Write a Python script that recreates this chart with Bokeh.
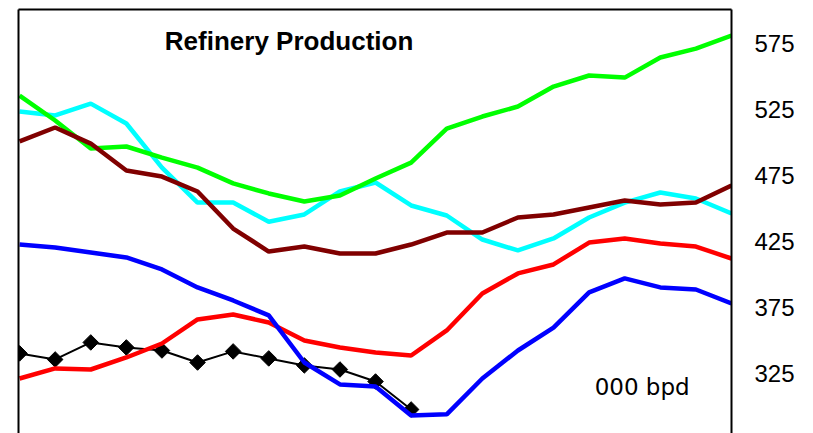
import numpy as np
from bokeh.plotting import figure
from bokeh.models import Range1d, LinearAxis, FixedTicker, Label
from bokeh.embed import file_html
from bokeh.resources import INLINE

# period index (21 periods)
periods = list(range(21))

green = [535.6, 516.7, 495.5, 497.0, 488.6, 481.0, 469.0, 461.4, 455.3, 459.8, 472.7,
         484.8, 510.6, 519.7, 527.3, 542.4, 550.8, 549.2, 564.4, 571.2, 581.0]
cyan = [523.5, 520.5, 529.5, 514.4, 481.0, 454.5, 454.5, 440.0, 445.5, 462.9, 469.7,
        452.3, 444.7, 426.5, 418.2, 427.3, 443.2, 454.5, 462.1, 457.6, 446.2]
maroon = [500.8, 511.4, 499.2, 478.8, 474.2, 462.9, 434.8, 417.4, 421.2, 415.9, 415.9,
          422.7, 431.8, 431.8, 443.2, 445.5, 450.8, 456.1, 453.0, 454.5, 467.4]
blue = [422.7, 420.5, 416.7, 412.9, 403.8, 390.2, 380.3, 369.0, 333.3, 316.7, 315.2,
        293.2, 294.0, 321.2, 342.4, 359.8, 386.4, 397.0, 390.2, 388.6, 378.0]
red = [321.2, 328.8, 328.0, 337.1, 347.7, 365.9, 369.7, 363.6, 350.0, 344.7, 340.9,
       338.6, 357.6, 385.6, 400.8, 407.6, 424.2, 427.3, 423.5, 421.2, 412.1]
black_periods = list(range(12))
black = [340.2, 335.6, 348.5, 344.7, 342.4, 333.3, 341.7, 336.4, 331.1, 328.0, 318.9, 297.7]

tick_values = [275, 325, 375, 425, 475, 525, 575, 625]

p = figure(width=808, height=433, output_backend="svg", toolbar_location=None,
           x_range=Range1d(-0.03, 20), y_range=Range1d(279.5, 600.8),
           x_axis_location=None, y_axis_location=None,
           min_border_left=18, min_border_right=77, min_border_top=9, min_border_bottom=0)
p.grid.visible = False
p.outline_line_color = None
p.background_fill_color = "white"
p.border_fill_color = "white"

p.line(black_periods, black, line_color="black", line_width=2)
p.scatter(black_periods, black, marker="square", angle=np.pi / 4, size=11,
          fill_color="black", line_color="black")
p.line(periods, cyan, line_color="#00FFFF", line_width=4.5)
p.line(periods, green, line_color="#00FF00", line_width=4.5)
p.line(periods, maroon, line_color="#800000", line_width=4.5)
p.line(periods, red, line_color="#FF0000", line_width=4.5)
p.line(periods, blue, line_color="#0000FF", line_width=4.5)

ax = LinearAxis(ticker=FixedTicker(ticks=tick_values))
ax.axis_line_color = "black"
ax.axis_line_width = 2
ax.major_tick_line_color = None
ax.minor_tick_line_color = None
ax.major_label_standoff = 17
ax.major_label_text_font = "Liberation Sans"
ax.major_label_text_font_size = "24px"
ax.major_label_text_color = "black"
p.add_layout(ax, "right")

# frame borders on left and top (line only)
for loc in ("left", "above"):
    b = LinearAxis(ticker=FixedTicker(ticks=[]))
    b.axis_line_color = "black"
    b.axis_line_width = 2
    b.major_tick_line_color = None
    b.minor_tick_line_color = None
    b.major_label_text_font_size = "0px"
    p.add_layout(b, loc)

p.add_layout(Label(x=7.57, y=577.0, text="Refinery Production", text_align="center",
                   text_baseline="alphabetic", text_font="Liberation Sans",
                   text_font_style="bold", text_font_size="26px", text_color="black"))
p.add_layout(Label(x=17.49, y=314.4, text="000 bpd", text_align="center",
                   text_baseline="alphabetic", text_font="DejaVu Sans",
                   text_font_size="23px", text_color="black"))

open("out.html", "w").write(file_html(p, INLINE))
